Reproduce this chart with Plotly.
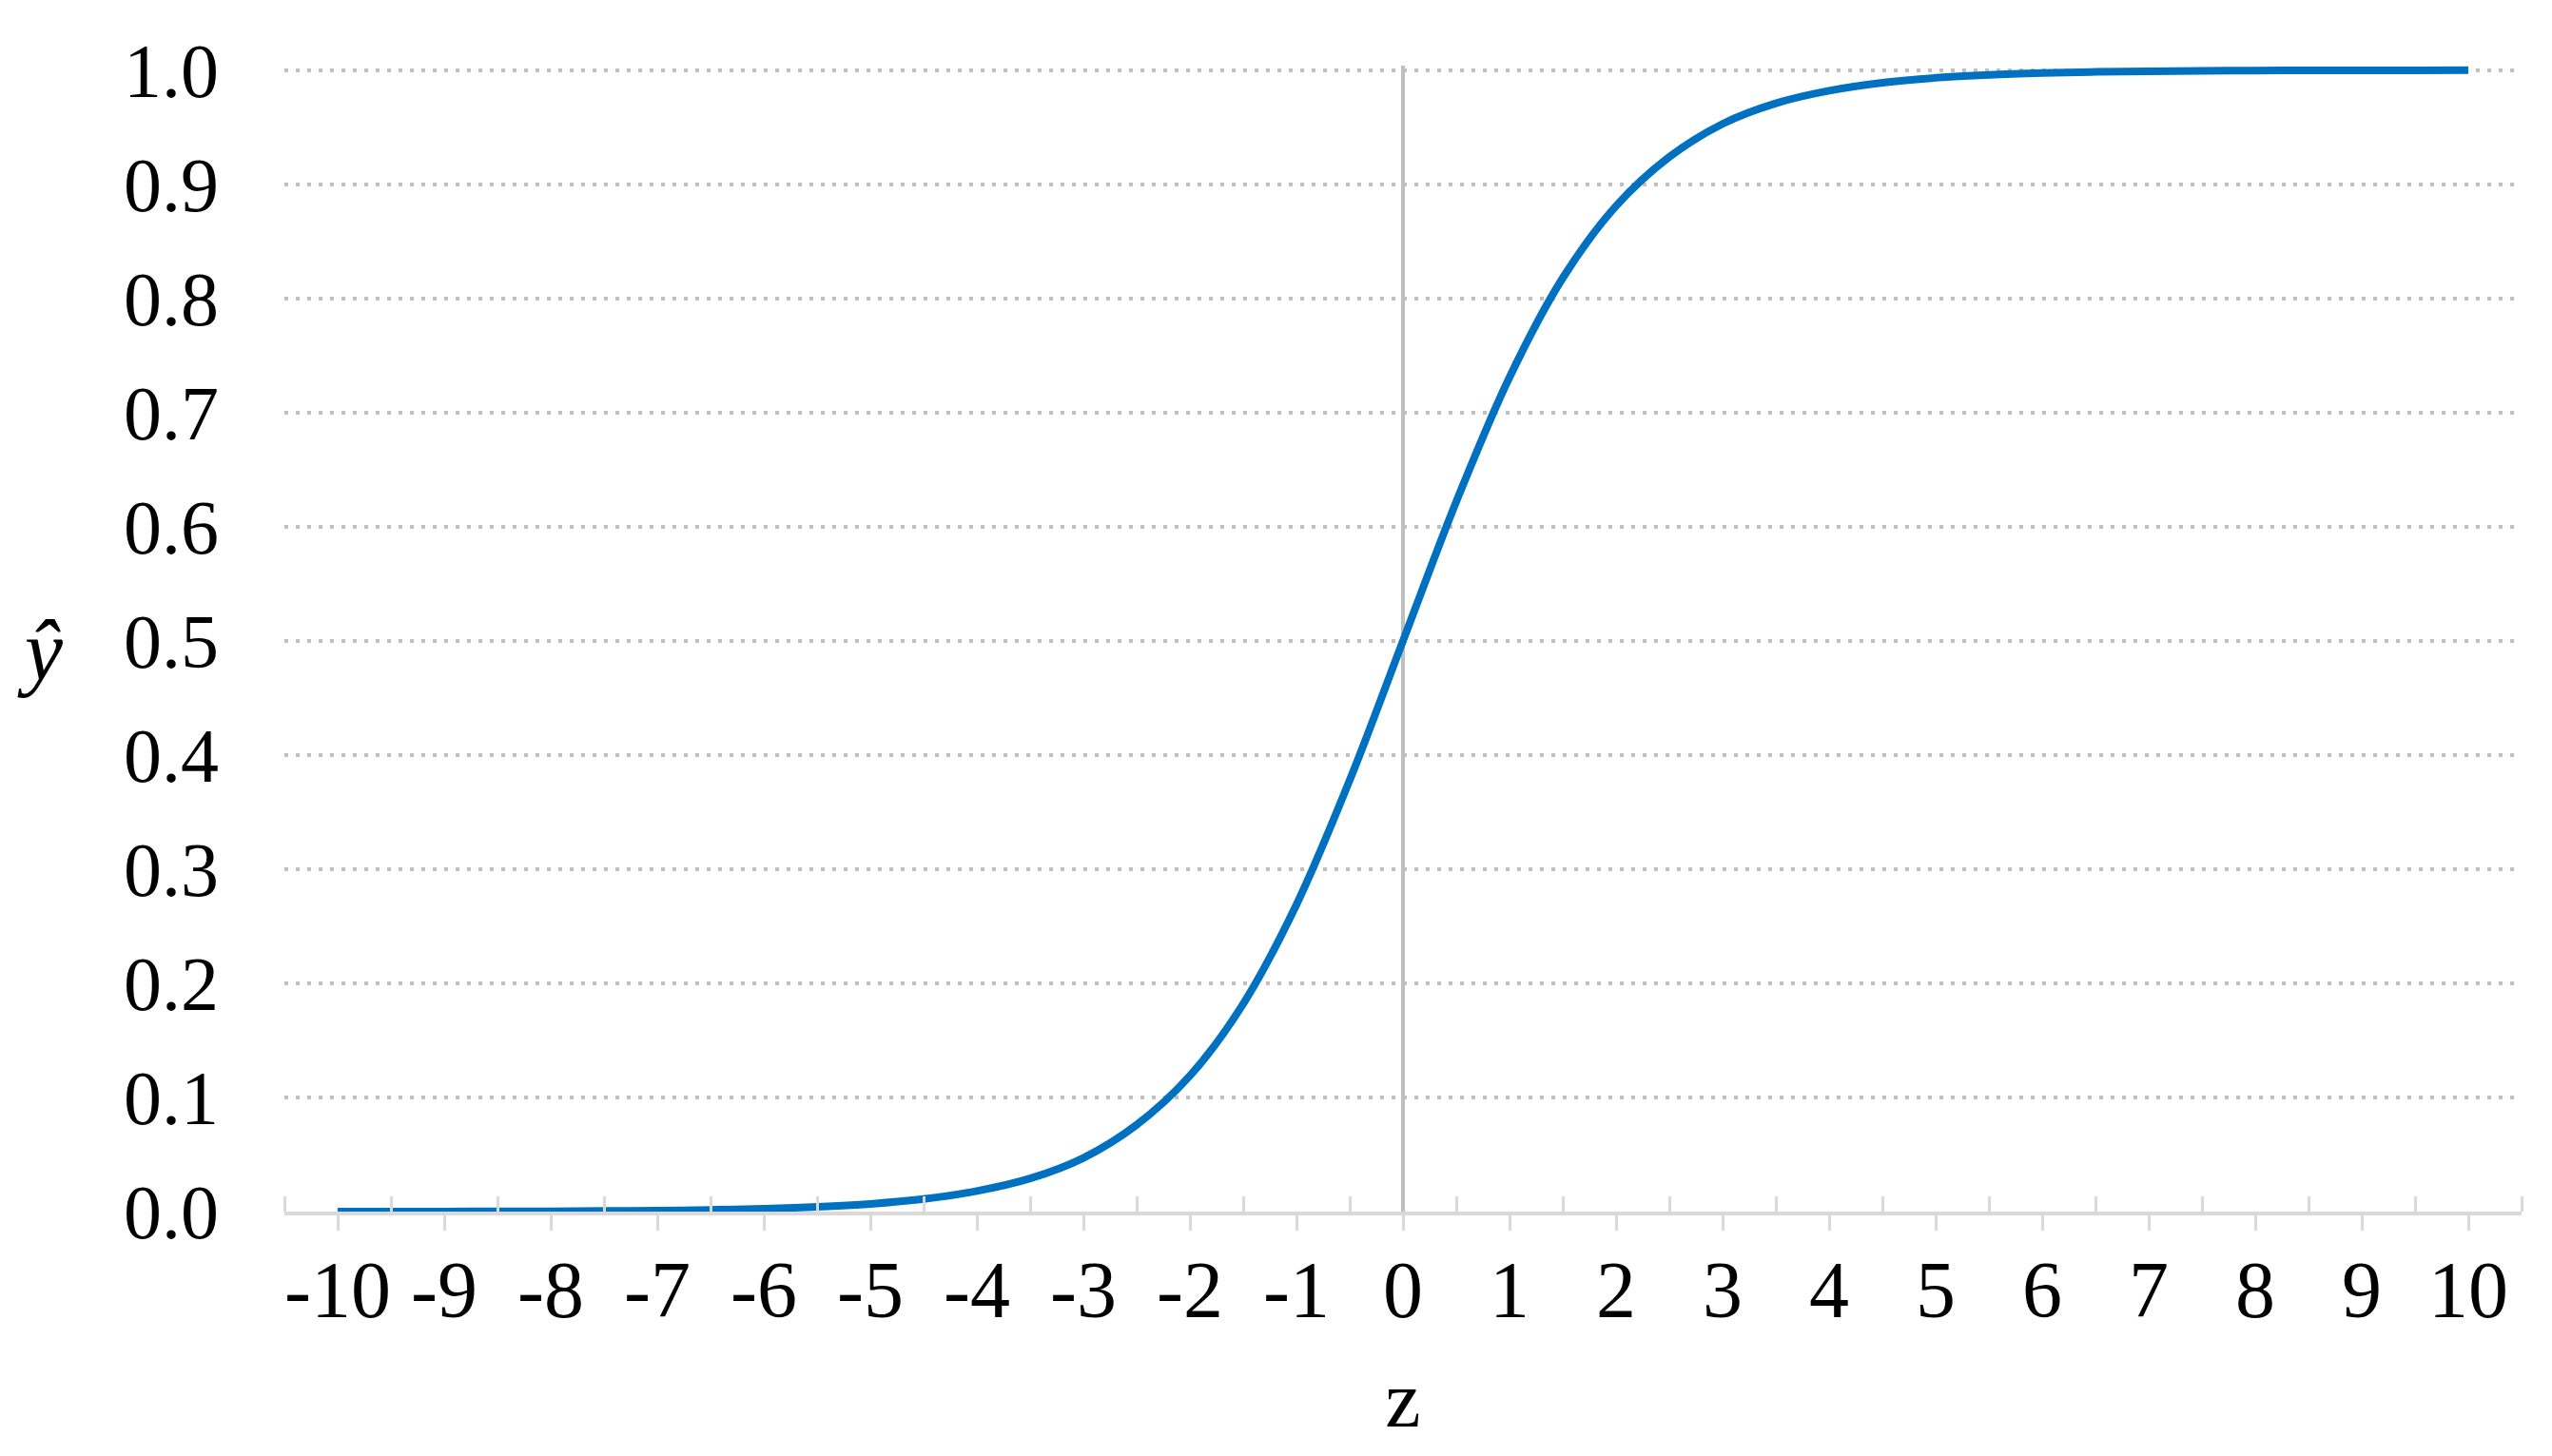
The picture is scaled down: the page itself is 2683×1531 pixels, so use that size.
import plotly.graph_objects as go

# values
z_values = [-10, -9.5, -9, -8.5, -8, -7.5, -7, -6.5, -6, -5.5, -5, -4.5, -4, -3.5, -3, -2.5, -2, -1.5, -1, -0.5,
            0, 0.5, 1, 1.5, 2, 2.5, 3, 3.5, 4, 4.5, 5, 5.5, 6, 6.5, 7, 7.5, 8, 8.5, 9, 9.5, 10]
y_hat = [0.0000, 0.0001, 0.0001, 0.0002, 0.0003, 0.0006, 0.0009, 0.0015, 0.0025, 0.0041, 0.0067, 0.011, 0.018,
         0.029, 0.047, 0.076, 0.119, 0.182, 0.269, 0.378, 0.500, 0.622, 0.731, 0.818, 0.881, 0.924, 0.953,
         0.971, 0.982, 0.989, 0.9933, 0.9959, 0.9975, 0.9985, 0.9991, 0.9994, 0.9997, 0.9998, 0.9999, 0.9999, 1.0]

x_ticks = [-10, -9, -8, -7, -6, -5, -4, -3, -2, -1, 0, 1, 2, 3, 4, 5, 6, 7, 8, 9, 10]
x_tick_labels = ["-10", "-9", "-8", "-7", "-6", "-5", "-4", "-3", "-2", "-1", "0",
                 "1", "2", "3", "4", "5", "6", "7", "8", "9", "10"]
y_ticks = [0.0, 0.1, 0.2, 0.3, 0.4, 0.5, 0.6, 0.7, 0.8, 0.9, 1.0]

FONT = "Liberation Serif, Times New Roman, serif"
W, H = 2683, 1531
L, R, T, B = 291, 40, 61, 265

fig = go.Figure(
    go.Scatter(
        x=z_values,
        y=y_hat,
        mode="lines",
        line=dict(color="#0070c0", width=8, shape="spline"),
        showlegend=False,
    )
)

fig.update_xaxes(
    range=[-10.5, 10.5],
    tickmode="array",
    tickvals=x_ticks,
    ticktext=x_tick_labels,
    ticks="outside",
    ticklen=16,
    tickwidth=3,
    tickcolor="#d9d9d9",
    ticklabelstandoff=-10,
    minor=dict(tickmode="linear", tick0=-10.5, dtick=1, ticks="inside", ticklen=16,
               tickwidth=3, tickcolor="#d9d9d9", showgrid=False),
    showline=True,
    linecolor="#d9d9d9",
    linewidth=4,
    showgrid=False,
    zeroline=True,
    zerolinecolor="#bfbfbf",
    zerolinewidth=4,
    tickfont=dict(family=FONT, size=84, color="#000000"),
    title=dict(text="z", font=dict(family=FONT, size=84, color="#000000"), standoff=40),
)

fig.update_yaxes(
    range=[0, 1.004],
    tickmode="array",
    tickvals=y_ticks,
    tickformat=".1f",
    ticks="",
    showline=False,
    showgrid=True,
    gridcolor="#c0c0c0",
    gridwidth=4,
    griddash="4px,8px",
    zeroline=False,
    tickfont=dict(family=FONT, size=80, color="#000000"),
    ticklabelstandoff=68,
)

fig.update_layout(
    width=W,
    height=H,
    margin=dict(l=L, r=R, t=T, b=B),
    paper_bgcolor="#ffffff",
    plot_bgcolor="#ffffff",
    annotations=[
        dict(text="<i>ŷ</i>", showarrow=False, xanchor="left", xref="paper", yref="paper",
             x=(8 - L) / (W - L - R), y=(H - B - 676) / (H - B - T),
             font=dict(family=FONT, size=90, color="#000000"))
    ],
)

fig.write_html("out.html")
